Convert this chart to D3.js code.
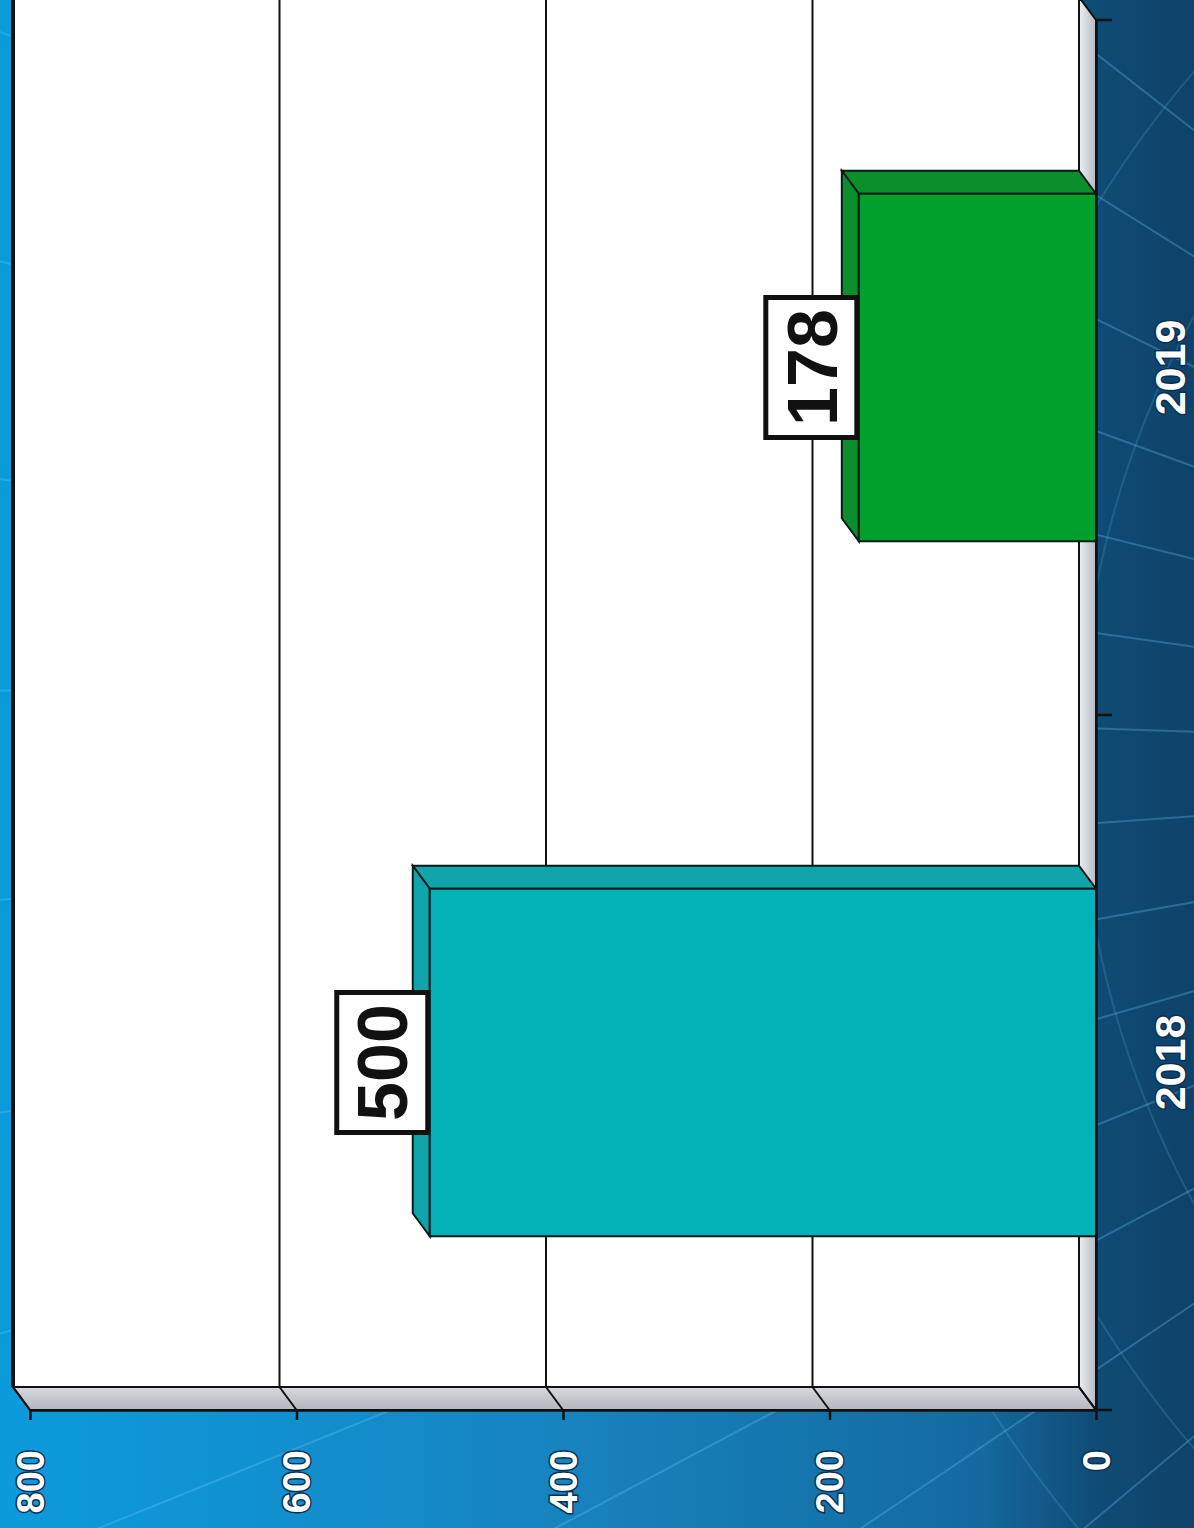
<!DOCTYPE html>
<html lang="en">
<head>
<meta charset="utf-8">
<title>D3: rotated 3D bar chart</title>
<script src="https://cdn.jsdelivr.net/npm/d3@7"></script>
<style>
  body { margin: 0; background: #0b6fae; }
  svg { display: block; }
  .axis text {
    font-family: "Liberation Sans", Arial, sans-serif;
    font-weight: bold;
    fill: #ffffff;
    stroke: #0a2f52;
    stroke-width: 3px;
    paint-order: stroke;
  }
  .label text {
    font-family: "Liberation Sans", Arial, sans-serif;
    font-weight: bold;
    fill: #111;
  }
</style>
</head>
<body>
<script>
  // data
  var categories = ["2018", "2019"];
  var values = [500, 178];
  var barColors = ["#03b3b8", "#019f2b"];
  var barSideColors = ["#0fa3aa", "#0a8f2c"];
  var valueTicks = [0, 200, 400, 600, 800];

  var w = 1194;
  var h = 1528;
  var dx = -17, dy = -23;   // depth offset (front -> back)

  var xScale = d3.scaleLinear()
    .domain([0, 800])
    .range([1096, 30]);

  var yScale = d3.scaleBand()
    .domain(categories)
    .range([1410, 20])
    .paddingInner(0.5)
    .paddingOuter(0.25);

  var svg = d3.select("body")
    .append("svg")
    .attr("width", w)
    .attr("height", h);

  var defs = svg.append("defs");
  var bg = defs.append("linearGradient").attr("id", "bg")
    .attr("x1", 0).attr("x2", 1).attr("y1", 0).attr("y2", 0);
  bg.append("stop").attr("offset", "0").attr("stop-color", "#0b9bdc");
  bg.append("stop").attr("offset", "0.45").attr("stop-color", "#1785c2");
  bg.append("stop").attr("offset", "0.82").attr("stop-color", "#146a9f");
  bg.append("stop").attr("offset", "0.92").attr("stop-color", "#0f4b75");
  bg.append("stop").attr("offset", "1").attr("stop-color", "#0e426a");

  var wallGrad = defs.append("linearGradient").attr("id", "sidewall")
    .attr("x1", 0).attr("x2", 0).attr("y1", 0).attr("y2", 1);
  wallGrad.append("stop").attr("offset", "0").attr("stop-color", "#d6d9de");
  wallGrad.append("stop").attr("offset", "1").attr("stop-color", "#b3b7be");

  var floorGrad = defs.append("linearGradient").attr("id", "floor")
    .attr("x1", 0).attr("x2", 1).attr("y1", 0).attr("y2", 0);
  floorGrad.append("stop").attr("offset", "0").attr("stop-color", "#eceef1");
  floorGrad.append("stop").attr("offset", "1").attr("stop-color", "#b6bac2");

  // background
  svg.append("rect")
    .attr("width", w)
    .attr("height", h)
    .attr("fill", "url(#bg)");

  // decorative rays and rings
  var cx = 2000, cy = 760;
  var deco = svg.append("g")
    .attr("fill", "none")
    .attr("stroke", "#6cc6f5")
    .attr("stroke-opacity", 0.3)
    .attr("stroke-width", 2);
  d3.range(-50, 51, 6).forEach(function (a) {
    var r = a * Math.PI / 180;
    deco.append("line")
      .attr("x1", cx).attr("y1", cy)
      .attr("x2", cx - 2600 * Math.cos(r)).attr("y2", cy + 2600 * Math.sin(r));
  });
  [760, 920, 1060, 1200].forEach(function (r) {
    deco.append("circle").attr("cx", cx).attr("cy", cy).attr("r", r)
      .attr("stroke-opacity", 0.18);
  });

  var x0 = xScale(0);
  var yTop = yScale.range()[1];
  var yBottom = yScale.range()[0];

  // back wall
  svg.append("rect")
    .attr("x", xScale(800) + dx)
    .attr("y", yTop + dy)
    .attr("width", x0 - xScale(800))
    .attr("height", yBottom - yTop)
    .attr("fill", "#ffffff");

  // side wall (bottom strip)
  svg.append("polygon")
    .attr("points", [[xScale(800) + dx, yBottom + dy], [x0 + dx, yBottom + dy], [x0, yBottom], [xScale(800), yBottom]].join(" "))
    .attr("fill", "url(#sidewall)")
    .attr("stroke", "#111")
    .attr("stroke-width", 2);

  // floor (right strip)
  svg.append("polygon")
    .attr("points", [[x0 + dx, yTop + dy], [x0, yTop], [x0, yBottom], [x0 + dx, yBottom + dy]].join(" "))
    .attr("fill", "url(#floor)")
    .attr("stroke", "#111")
    .attr("stroke-width", 2);

  // gridlines on back wall and side wall
  svg.selectAll("line.grid")
    .data(valueTicks.filter(function (d) { return d > 0; }))
    .enter()
    .append("line")
    .attr("class", "grid")
    .attr("x1", function (d) { return xScale(d) + dx; })
    .attr("x2", function (d) { return xScale(d) + dx; })
    .attr("y1", yTop + dy)
    .attr("y2", yBottom + dy)
    .attr("stroke", "#111")
    .attr("stroke-width", function (d) { return d === 800 ? 4 : 2; });

  svg.selectAll("line.gridside")
    .data(valueTicks)
    .enter()
    .append("line")
    .attr("class", "gridside")
    .attr("x1", function (d) { return xScale(d) + dx; })
    .attr("x2", function (d) { return xScale(d); })
    .attr("y1", yBottom + dy)
    .attr("y2", yBottom)
    .attr("stroke", "#111")
    .attr("stroke-width", 2);

  // bars
  var bars = svg.selectAll("g.bar")
    .data(categories)
    .enter()
    .append("g")
    .attr("class", "bar");

  bars.append("polygon")   // side strip
    .attr("points", function (d, i) {
      var x = xScale(values[i]), y = yScale(d);
      return [[x, y], [x + dx, y + dy], [x0 + dx, y + dy], [x0, y]].join(" ");
    })
    .attr("fill", function (d, i) { return barSideColors[i]; })
    .attr("stroke", "#0a1a1a")
    .attr("stroke-width", 2);

  bars.append("polygon")   // top face
    .attr("points", function (d, i) {
      var x = xScale(values[i]), y = yScale(d), bw = yScale.bandwidth();
      return [[x, y], [x + dx, y + dy], [x + dx, y + bw + dy], [x, y + bw]].join(" ");
    })
    .attr("fill", function (d, i) { return barSideColors[i]; })
    .attr("stroke", "#0a1a1a")
    .attr("stroke-width", 2);

  bars.append("rect")      // front face
    .attr("x", function (d, i) { return xScale(values[i]); })
    .attr("y", function (d) { return yScale(d); })
    .attr("width", function (d, i) { return x0 - xScale(values[i]); })
    .attr("height", yScale.bandwidth())
    .attr("fill", function (d, i) { return barColors[i]; })
    .attr("stroke", "#0a1a1a")
    .attr("stroke-width", 2);

  // value axis (bottom)
  var xAxis = d3.axisBottom(xScale)
    .tickValues(valueTicks)
    .tickSize(10)
    .tickSizeOuter(0)
    .tickPadding(0);

  var gx = svg.append("g")
    .attr("class", "axis")
    .attr("transform", "translate(0," + yBottom + ")")
    .call(xAxis);
  gx.select(".domain").attr("stroke", "#111").attr("stroke-width", 2.5);
  gx.selectAll(".tick line").attr("stroke", "#111").attr("stroke-width", 2.5);
  gx.selectAll("text")
    .attr("x", 0).attr("y", 0).attr("dy", "0.35em")
    .attr("transform", "translate(0,40) rotate(-90)")
    .attr("text-anchor", "end")
    .style("font-size", "38px");

  // category axis (right)
  var yAxis = d3.axisRight(yScale)
    .tickSize(0)
    .tickSizeOuter(0)
    .tickPadding(0);

  var gy = svg.append("g")
    .attr("class", "axis")
    .attr("transform", "translate(" + x0 + ",0)")
    .call(yAxis);
  gy.select(".domain").attr("stroke", "#111").attr("stroke-width", 2.5);
  gy.selectAll("text")
    .attr("x", 0).attr("y", 0).attr("dy", "0.35em")
    .attr("transform", "translate(74,0) rotate(-90)")
    .attr("text-anchor", "middle")
    .style("font-size", "43px");

  // category boundary ticks
  gy.selectAll("line.bound")
    .data(d3.range(categories.length + 1))
    .enter()
    .append("line")
    .attr("class", "bound")
    .attr("x1", 0).attr("x2", 16)
    .attr("y1", function (i) { return yTop + i * yScale.step(); })
    .attr("y2", function (i) { return yTop + i * yScale.step(); })
    .attr("stroke", "#111")
    .attr("stroke-width", 2.5);

  // value labels
  var boxW = 91, boxH = 140;
  var labels = svg.selectAll("g.label")
    .data(categories)
    .enter()
    .append("g")
    .attr("class", "label")
    .attr("transform", function (d, i) {
      return "translate(" + (xScale(values[i]) - 2 - boxW / 2) + "," + (yScale(d) + yScale.bandwidth() / 2) + ")";
    });

  labels.append("rect")
    .attr("x", -boxW / 2)
    .attr("y", -boxH / 2)
    .attr("width", boxW)
    .attr("height", boxH)
    .attr("fill", "#fff")
    .attr("stroke", "#111")
    .attr("stroke-width", 5);

  labels.append("text")
    .attr("transform", "rotate(-90)")
    .attr("text-anchor", "middle")
    .attr("dy", "0.36em")
    .style("font-size", "70px")
    .text(function (d, i) { return values[i]; });
</script>
</body>
</html>
